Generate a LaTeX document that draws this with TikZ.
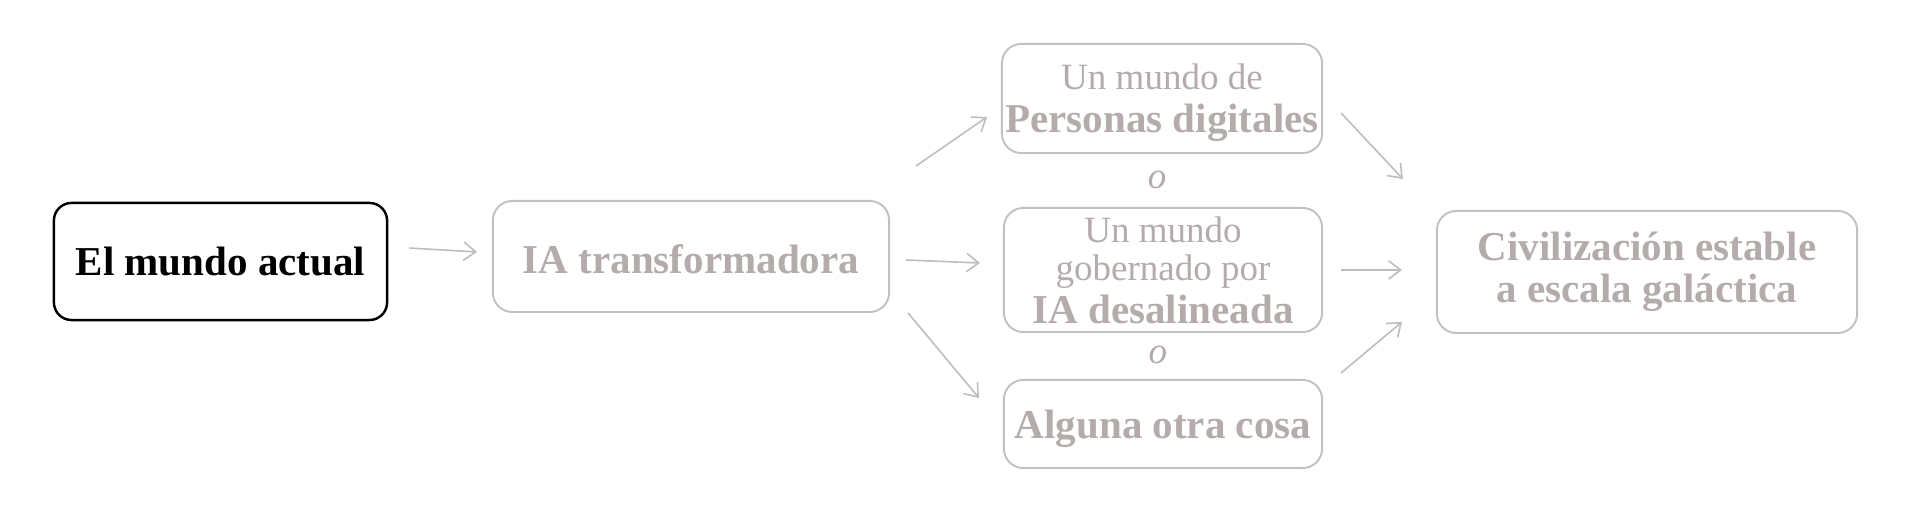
\documentclass[tikz,border=0pt]{standalone}
\usepackage{fontspec}
\setmainfont{Liberation Serif}
\usetikzlibrary{arrows.meta}
\definecolor{txtgray}{RGB}{180,172,171}
\definecolor{boxgray}{RGB}{196,192,192}
\definecolor{arrgray}{RGB}{190,188,188}
\newcommand\rgfont{\fontsize{10.53}{10.8}\selectfont}
\newcommand\bdfont{\fontsize{11.67}{11.4}\selectfont\bfseries}
\begin{document}
\begin{tikzpicture}[x=0.01cm,y=-0.01cm,
  box/.style={draw=boxgray, line width=0.55pt, rounded corners=5.5pt, inner sep=0pt, align=center, text=txtgray},
  mainbox/.style={draw=black, line width=0.7pt, rounded corners=5pt, inner sep=0pt, align=center, text=black},
  orlabel/.style={inner sep=0pt, text=txtgray, font=\rgfont\itshape},
  arr/.style={draw=arrgray, line width=0.45pt, -{Straight Barb[length=3.4pt,width=5.2pt]}}]
\useasboundingbox (0,0) rectangle (1920,513);
\node[mainbox, minimum width=3.33cm, minimum height=1.17cm, font=\bdfont] (b1) at (220.5,261.5) {El mundo actual};
\node[box, minimum width=3.96cm, minimum height=1.11cm, font=\bdfont, text height=9.6pt, text depth=0pt] (b2) at (691,256.5) {IA transformadora};
\node[box, minimum width=3.20cm, minimum height=1.09cm, font=\rgfont, text depth=0.3pt] (b3) at (1162,98.5) {Un mundo de\\[1.4pt]{\bdfont Personas digitales}};
\node[box, minimum width=3.18cm, minimum height=1.24cm, font=\rgfont] (b4) at (1163,270) {Un mundo\\gobernado por\\[1.5pt]{\bdfont IA desalineada}};
\node[box, minimum width=3.18cm, minimum height=0.88cm, font=\bdfont, text height=8pt, text depth=0pt] (b5) at (1163,424) {Alguna otra cosa};
\node[box, minimum width=4.20cm, minimum height=1.22cm, font=\bdfont] (b6) at (1647,272) {Civilización estable\\[0.6pt]a escala galáctica};
\node[orlabel] (o1) at (1157,180) {o};
\node[orlabel] (o2) at (1158,355) {o};
\draw[arr] ([shift={(21,-13.5)}]b1.east) -- ([shift={(-15,-4.5)}]b2.west);
\draw[arr] ([shift={(26,-34)}]b2.north east) -- ([shift={(-14,18.5)}]b3.west);
\draw[arr] ([shift={(16,3.5)}]b2.east) -- ([shift={(-23,-7)}]b4.west);
\draw[arr] ([shift={(18,0)}]b2.south east) -- ([shift={(-24,-26)}]b5.west);
\draw[arr] ([shift={(18,14.5)}]b3.east) -- ([shift={(-33,-93)}]b6.west);
\draw[arr] ([shift={(18,0)}]b4.east) -- ([shift={(-34,-2)}]b6.west);
\draw[arr] ([shift={(18,-51)}]b5.east) -- ([shift={(-34,50)}]b6.west);
\end{tikzpicture}
\end{document}
